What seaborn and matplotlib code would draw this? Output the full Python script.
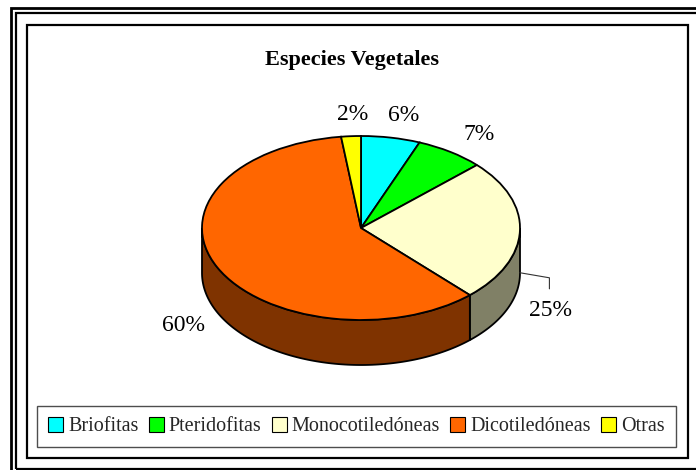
import numpy as np
import matplotlib
matplotlib.use("Agg")
import matplotlib.pyplot as plt
import seaborn as sns
from matplotlib.patches import Polygon, Rectangle, Patch

# ---- data ----
categories = ["Briofitas", "Pteridofitas", "Monocotiledóneas", "Dicotiledóneas", "Otras"]
values = [6, 7, 25, 60, 2]
title = "Especies Vegetales"

# ---- style ----
top_colors = ["#00FFFF", "#00FF00", "#FFFFCC", "#FF6600", "#FFFF00"]
side_colors = ["#008080", "#008000", "#808066", "#7F3300", "#808000"]

sns.set_theme(style="white")
plt.rcParams["font.family"] = ["Liberation Serif", "DejaVu Serif"]

W, H = 696, 470
fig = plt.figure(figsize=(W / 100, H / 100), dpi=100)
ax = fig.add_axes([0, 0, 1, 1])

# ellipse geometry in pixels
cx, cy, rx, ry, depth_px = 361, 228, 159, 92, 45
d = depth_px / ry

def px2d(x, y):
    return ((x - cx) / rx, (cy - y) / ry)

wedges, _ = ax.pie(values, colors=top_colors, startangle=90, counterclock=False,
                   radius=1, center=(0, 0),
                   wedgeprops=dict(edgecolor="black", linewidth=1.3))
for w in wedges:
    w.set_zorder(3)

ax.set_aspect("auto")
ax.set_xlim(-cx / rx, (W - cx) / rx)
ax.set_ylim((cy - H) / ry, cy / ry)
ax.axis("off")

# side walls (front half of the cylinder)
for w, sc in zip(wedges, side_colors):
    t1, t2 = w.theta1, w.theta2
    for k in (-360, 0, 360):
        lo = max(t1, -180 + k)
        hi = min(t2, 0 + k)
        if hi > lo:
            a = np.radians(np.linspace(lo, hi, 120))
            top = np.column_stack([np.cos(a), np.sin(a)])
            bot = np.column_stack([np.cos(a[::-1]), np.sin(a[::-1]) - d])
            poly = Polygon(np.vstack([top, bot]), closed=True, facecolor=sc,
                           edgecolor="black", linewidth=1.3, zorder=2)
            ax.add_patch(poly)

# percentage labels
moved = {2: (551, 310)}
for i, (w, v) in enumerate(zip(wedges, values)):
    mid = np.radians((w.theta1 + w.theta2) / 2)
    txt = f"{v}%"
    if i in moved:
        lx, ly = px2d(*moved[i])
        sx, sy = np.cos(mid), np.sin(mid) - d * 0.93
        ex = lx - 0.01
        ax.plot([sx, ex, ex], [sy, ly + 0.35, ly + 0.23], color="#333333", lw=0.8, zorder=4)
        ax.text(lx, ly, txt, ha="center", va="center", fontsize=17, color="black", zorder=5)
    else:
        r = 1.27
        lx, ly = r * np.cos(mid) + 0.03, r * np.sin(mid) - 0.03
        if np.sin(mid) < 0:
            ly -= d
        ax.text(lx, ly, txt, ha="center", va="center", fontsize=17, color="black", zorder=5)

# title
fig.text(352 / W, 1 - 60 / H, title, ha="center", va="center",
         fontsize=16, fontweight="bold", color="black")

# legend
handles = [Patch(facecolor=c, edgecolor="black", linewidth=0.8) for c in top_colors]
leg = fig.legend(handles, categories, loc="center", bbox_to_anchor=(356.5 / W, 1 - 426.5 / H),
                 ncol=5, frameon=True, fancybox=False, fontsize=14.5,
                 handlelength=0.75, handleheight=0.75, handletextpad=0.25,
                 columnspacing=0.5, borderpad=0.55, borderaxespad=0)
leg.get_frame().set_edgecolor("#222222")
leg.get_frame().set_linewidth(1.0)

# frames (pixel coordinates)
def frame(x0, y0, x1, y1, lw):
    fig.add_artist(Rectangle((x0 / W, 1 - y1 / H), (x1 - x0) / W, (y1 - y0) / H,
                             transform=fig.transFigure, fill=False,
                             edgecolor="black", linewidth=lw, clip_on=False))

frame(11, 8, 730, 490, 2.0)
frame(16, 13, 720, 469, 1.6)
frame(27, 25, 687.5, 458, 1.6)

fig.savefig("out.png", dpi=100)
